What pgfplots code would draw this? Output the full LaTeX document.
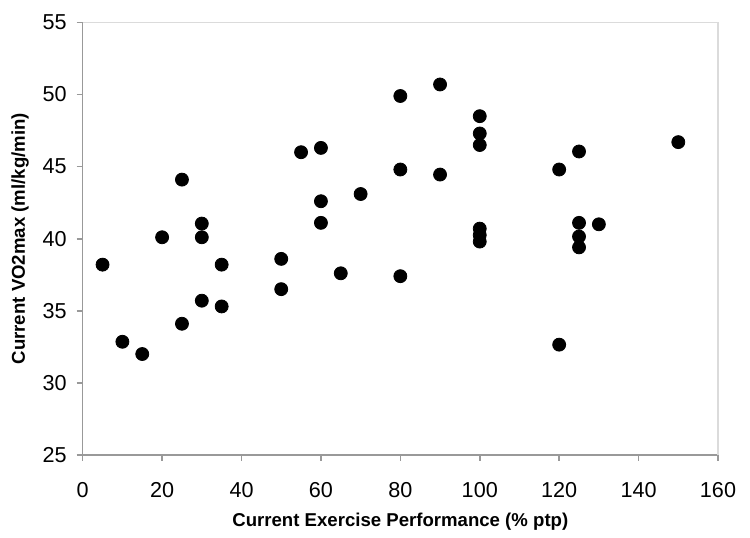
\documentclass[border=0pt]{standalone}
\usepackage{pgfplots}
\pgfplotsset{compat=1.18}
\usepackage{fontspec}
\setmainfont{Liberation Sans}

\definecolor{axisgray}{gray}{0.6}
\definecolor{framegray}{gray}{0.86}

\begin{document}
\begin{tikzpicture}
  \begin{axis}[
      scale only axis,
      width=317.7pt, height=216.25pt,
      xmin=0, xmax=160, ymin=25, ymax=55,
      xtick={0,20,...,160}, ytick={25,30,...,55},
      axis lines=left,
      axis line style={-, axisgray, line width=0.8pt},
      tick style={axisgray, line width=0.8pt},
      tick align=outside,
      major tick length=3pt,
      /pgf/number format/assume math mode=true,
      ticklabel style={font=\fontsize{10.8}{12}\selectfont},
      xticklabel style={yshift=-7pt},
      yticklabel style={xshift=-1.5pt},
      xlabel={Current Exercise Performance (\% ptp)},
      ylabel={Current VO2max (ml/kg/min)},
      label style={font=\fontsize{9.3}{11}\selectfont\bfseries},
      xlabel style={at={(axis description cs:0.5,-0.1665)}, anchor=base},
      ylabel style={at={(axis description cs:-0.0908,0.5)}, anchor=base},
      clip=false,
    ]
    \addplot[only marks, mark=*, mark size=3.25pt, black] coordinates {
      (5,38.2) (10,32.85) (15,32.0) (20,40.1)
      (25,44.1) (25,34.1)
      (30,41.05) (30,40.1) (30,35.7)
      (35,38.2) (35,35.3)
      (50,38.6) (50,36.5)
      (55,46.0) (60,46.3) (60,42.6) (60,41.1)
      (65,37.6) (70,43.1)
      (80,49.9) (80,44.8) (80,37.4)
      (90,50.7) (90,44.45)
      (100,48.5) (100,47.3) (100,46.5) (100,40.7) (100,40.25) (100,39.8)
      (120,44.8) (120,32.65)
      (125,46.05) (125,41.1) (125,40.15) (125,39.4)
      (130,41.0) (150,46.7)
    };
    \draw[framegray, line width=0.8pt] (rel axis cs:0,1) -- (rel axis cs:1,1) -- (rel axis cs:1,0);
    \coordinate (SW) at (rel axis cs:0,0);
    \coordinate (NE) at (rel axis cs:1,1);
  \end{axis}
  \pgfresetboundingbox
  \path[use as bounding box] ([shift={(-41.35pt,-41.5pt)}]SW) rectangle ([shift={(16pt,11.25pt)}]NE);
\end{tikzpicture}
\end{document}
